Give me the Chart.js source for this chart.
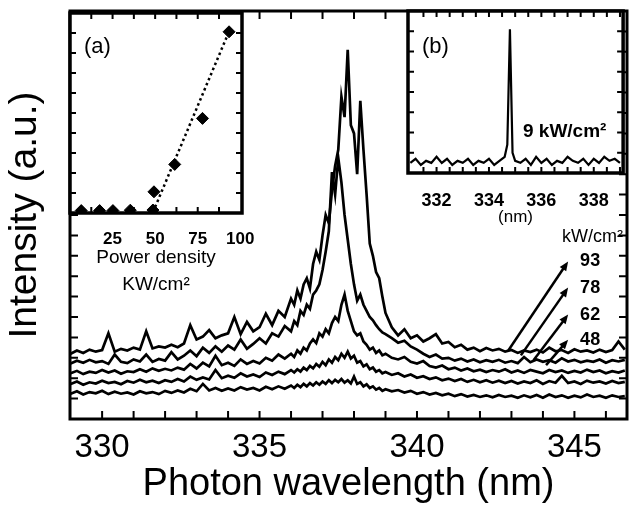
<!DOCTYPE html>
<html>
<head>
<meta charset="utf-8">
<script src="https://cdn.jsdelivr.net/npm/chart.js@4.4.1/dist/chart.umd.min.js"></script>
<style>
  html, body { margin: 0; padding: 0; background: #fff; }
  #wrap { position: relative; width: 629px; height: 507px; }
  canvas { position: absolute; top: 0; }
  #main { left: 0; }
  #insetA { left: 40px; }
  #insetB { left: 380px; }
</style>
</head>
<body>
<div id="wrap">
  <canvas id="main" width="629" height="507" style="width:629px;height:507px"></canvas>
  <canvas id="insetA" width="230" height="300" style="width:230px;height:300px"></canvas>
  <canvas id="insetB" width="249" height="228" style="width:249px;height:228px"></canvas>
</div>
<script>
// main spectra: wavelength (nm) and intensity (a.u., stacked)
const wavelength = [
  329.0, 329.2, 329.4, 329.6, 329.8, 330.0, 330.2, 330.4, 330.6, 330.8, 331.0, 331.2, 331.4, 331.6, 331.8, 332.0, 332.2, 332.4,
  332.6, 332.8, 333.0, 333.2, 333.4, 333.6, 333.8, 334.0, 334.2, 334.4, 334.6, 334.8, 335.0, 335.2, 335.4, 335.6, 335.8, 336.0,
  336.1, 336.2, 336.3, 336.4, 336.5, 336.6, 336.7, 336.8, 336.9, 337.0, 337.1, 337.2, 337.3, 337.4, 337.5, 337.6, 337.7, 337.8,
  337.9, 338.0, 338.1, 338.2, 338.3, 338.4, 338.5, 338.6, 338.7, 338.8, 338.9, 339.0,
  339.2, 339.4, 339.6, 339.8, 340.0, 340.2, 340.4, 340.6, 340.8, 341.0, 341.2, 341.4, 341.6, 341.8, 342.0, 342.2, 342.4, 342.6,
  342.8, 343.0, 343.2, 343.4, 343.6, 343.8, 344.0, 344.2, 344.4, 344.6, 344.8, 345.0, 345.2, 345.4, 345.6, 345.8, 346.0, 346.2,
  346.4, 346.6
];
const spec93 = [
  16.0, 16.8, 16.2, 17.0, 16.5, 16.9, 21.0, 16.5, 17.2, 16.8, 17.5, 17.0, 21.5, 17.3, 17.8, 17.5, 18.2, 17.6,
  18.5, 23.0, 19.5, 20.2, 21.8, 19.8, 20.5, 21.0, 25.0, 20.8, 23.8, 21.5, 22.5, 25.8, 23.0, 26.5, 25.0, 29.5,
  28.0, 31.5, 29.5, 33.0, 34.5, 32.0, 38.0, 41.0, 39.0, 45.0, 50.0, 48.0, 56.0, 62.0, 66.0, 79.0, 74.0, 90.5,
  72.0, 70.0, 60.0, 78.0, 66.0, 55.0, 43.0, 40.0, 36.0, 34.5, 30.0, 26.0,
  22.5, 20.5, 22.0, 19.8, 20.5, 19.0, 19.8, 20.8, 18.5, 18.9, 17.6, 18.2, 17.0, 17.5, 16.6, 17.4, 16.8, 17.2,
  16.5, 16.9, 16.2, 16.8, 16.4, 17.0, 16.3, 17.5, 16.6, 16.9, 16.2, 17.1, 16.5, 16.8, 16.3, 17.0, 16.4, 16.9,
  19.0, 17.0
];
const spec78 = [
  13.6, 14.3, 13.8, 14.5, 13.9, 14.2, 13.5, 15.8, 14.0, 13.7, 14.6, 14.1, 15.8, 14.0, 14.7, 14.3, 16.4, 14.6,
  15.5, 16.8, 15.4, 17.5, 16.2, 17.8, 16.5, 18.0, 17.0, 19.5, 17.2, 18.4, 19.8, 18.5, 21.0, 20.2, 22.8, 21.5,
  24.0, 23.0, 26.5, 25.5, 28.0, 27.0, 30.5, 31.5, 33.0, 36.5, 41.0, 46.0, 60.5, 55.0, 64.0, 58.0, 50.0, 44.0,
  38.0, 33.0, 29.0, 30.5, 28.0, 26.5, 25.0, 24.2, 23.0, 22.0, 21.2, 20.8,
  19.8, 18.7, 19.2, 17.8, 17.0, 16.0, 15.2, 15.8, 14.8, 15.0, 14.3, 14.8, 14.1, 14.6, 13.9, 14.4, 14.0, 14.5,
  13.8, 14.2, 13.7, 15.2, 13.9, 14.6, 14.0, 14.4, 13.8, 14.9, 14.1, 14.5, 13.9, 14.3, 14.0, 14.6, 13.8, 14.4,
  14.1, 14.5
];
const spec62 = [
  11.2, 11.8, 11.0, 11.6, 11.3, 12.0, 11.4, 11.9, 11.1, 11.7, 11.5, 12.2, 11.6, 12.4, 11.8, 12.3, 11.9, 12.6,
  12.1, 13.5, 12.4, 13.8, 12.9, 15.5, 13.2, 13.8, 13.0, 14.6, 13.5, 14.2, 13.6, 15.0, 14.3, 15.8, 14.8, 16.0,
  15.2, 16.8, 16.0, 17.5, 16.8, 18.5, 19.5, 18.6, 21.0, 20.2, 22.0, 21.0, 23.5, 25.0, 24.0, 28.0, 30.5, 26.5,
  24.0, 21.5, 20.5, 21.0, 19.0, 18.2, 17.0, 17.5, 16.2, 16.8, 15.6, 16.0,
  15.0, 14.6, 15.2, 14.0, 13.6, 14.2, 13.0, 12.6, 13.1, 12.2, 12.6, 11.9, 12.4, 11.7, 12.1, 11.5, 12.0, 11.6,
  12.2, 11.4, 11.9, 11.3, 12.0, 11.6, 11.2, 12.0, 11.5, 11.9, 11.3, 11.8, 11.4, 12.1, 11.5, 11.9, 11.2, 11.7,
  11.4, 11.9
];
const spec48 = [
  8.6, 9.2, 8.4, 9.0, 8.7, 9.4, 8.8, 9.1, 8.5, 9.3, 8.9, 9.6, 9.0, 9.4, 8.8, 9.5, 9.1, 9.8,
  9.2, 10.4, 9.6, 10.2, 9.7, 12.0, 10.0, 10.6, 10.1, 11.2, 10.4, 10.9, 10.3, 11.4, 10.8, 11.6, 11.0, 12.0,
  11.4, 12.2, 11.6, 12.6, 12.0, 13.0, 12.4, 13.5, 12.8, 14.0, 13.2, 14.6, 13.8, 15.2, 14.4, 16.0, 15.0, 16.5,
  14.8, 15.5, 13.8, 14.2, 12.9, 13.4, 12.2, 12.6, 11.6, 12.0, 11.2, 11.5,
  10.8, 11.2, 10.4, 10.9, 10.1, 10.5, 9.8, 10.2, 9.5, 9.9, 9.3, 9.8, 9.1, 9.6, 9.0, 9.5, 8.9, 9.4,
  8.8, 9.3, 8.7, 9.2, 8.8, 9.5, 8.6, 9.3, 8.9, 10.6, 8.8, 9.2, 8.6, 9.4, 8.9, 9.2, 8.7, 9.3,
  8.8, 9.1
];
const specLow = [
  6.2, 6.8, 6.0, 6.6, 6.3, 6.9, 6.1, 6.7, 6.2, 6.5, 6.0, 6.8, 6.3, 6.6, 6.1, 6.9, 6.4, 7.0,
  6.5, 7.4, 6.8, 8.6, 7.0, 7.6, 6.9, 7.5, 7.0, 7.8, 7.2, 7.6, 7.0, 7.9, 7.3, 8.0, 7.4, 8.2,
  7.6, 8.4, 7.8, 8.6, 8.0, 8.8, 8.2, 9.0, 8.4, 9.2, 8.6, 9.5, 8.8, 9.6, 9.0, 9.8, 8.9, 9.5,
  8.7, 10.4, 8.6, 9.0, 8.0, 8.5, 7.6, 8.0, 7.2, 7.6, 6.9, 7.3,
  6.8, 7.1, 6.5, 6.9, 6.2, 6.6, 6.0, 6.4, 5.8, 6.2, 5.6, 6.1, 5.5, 5.9, 5.4, 5.8, 5.3, 5.9,
  5.4, 5.7, 5.2, 5.8, 5.3, 5.9, 5.2, 6.0, 5.4, 5.8, 5.2, 5.7, 5.3, 6.0, 5.4, 5.7, 5.2, 5.8,
  5.4, 5.6
];
const spectra = [spec93, spec78, spec62, spec48, specLow];

// arrows pointing at the curves, labelled with power density
const arrowLabels = ['93', '78', '62', '48'];
const arrowTailX = [342.9, 343.3, 343.7, 344.1];
const arrowTailY = [16.8, 15.6, 14.4, 13.2];
const arrowHeadX = [344.8, 344.8, 344.8, 344.8];
const arrowHeadY = [38.6, 32.2, 25.6, 19.4];

// inset (a): intensity vs power density
const powerX = [6.6, 17.4, 25.2, 35.4, 48.7, 49.3, 61.5, 77.8, 93.4];
const powerY = [1.2, 1.2, 1.2, 1.4, 1.5, 10.6, 24.3, 47.3, 90.6];
const fitX = [50, 94];
const fitY = [3, 92];

// inset (b): spectrum at 9 kW/cm2
const bWave = [
  331.0, 331.2, 331.4, 331.6, 331.8, 332.0, 332.2, 332.4, 332.6, 332.8, 333.0, 333.2, 333.4, 333.6, 333.8, 334.0, 334.2, 334.4, 334.6,
  334.7, 334.8, 334.9,
  335.0, 335.2, 335.4, 335.6, 335.8, 336.0, 336.2, 336.4, 336.6, 336.8, 337.0, 337.2, 337.4, 337.6, 337.8, 338.0, 338.2, 338.4, 338.6, 338.8, 339.0
];
const bVals = [
  0.5, 0.7, 0.4, 0.6, 0.5, 0.8, 0.5, 0.7, 0.4, 0.6, 0.5, 0.7, 0.4, 0.6, 0.5, 0.7, 0.4, 0.6, 0.8,
  1.4, 7.1, 1.0,
  0.6, 0.5, 0.7, 0.4, 0.8, 0.5, 0.7, 0.4, 0.6, 0.5, 0.8, 0.6, 0.5, 0.7, 0.4, 0.7, 0.5, 0.8, 0.6, 0.7, 0.5
];

const FONT = "'Liberation Sans', Arial, sans-serif";
Chart.defaults.color = '#000';
Chart.defaults.font.family = FONT;

const zip = (xs, ys) => xs.map((x, i) => ({ x: x, y: ys[i] }));

// box frame + inward ticks on all four sides
const frameTicks = {
  id: 'frameTicks',
  beforeDatasetsDraw(chart, args, opts) {
    if (!opts.fill) return;
    const a = chart.chartArea;
    chart.ctx.save();
    chart.ctx.fillStyle = opts.fill;
    chart.ctx.fillRect(a.left, a.top, a.right - a.left, a.bottom - a.top);
    chart.ctx.restore();
  },
  afterDatasetsDraw(chart, args, opts) {
    const { ctx, chartArea: a, scales } = chart;
    const len = opts.len || 7;
    ctx.save();
    ctx.strokeStyle = '#000';
    ctx.lineWidth = opts.tickWidth || 2;
    ctx.beginPath();
    (scales.x.ticks || []).forEach(t => {
      const px = scales.x.getPixelForValue(t.value);
      if (px < a.left + 3 || px > a.right - 3) return;
      ctx.moveTo(px, a.bottom); ctx.lineTo(px, a.bottom - len);
      ctx.moveTo(px, a.top); ctx.lineTo(px, a.top + len);
    });
    (scales.y.ticks || []).forEach(t => {
      const py = scales.y.getPixelForValue(t.value);
      if (py < a.top + 3 || py > a.bottom - 3) return;
      ctx.moveTo(a.left, py); ctx.lineTo(a.left + len, py);
      ctx.moveTo(a.right, py); ctx.lineTo(a.right - len, py);
    });
    ctx.stroke();
    ctx.lineWidth = opts.frameWidth || 3;
    ctx.strokeRect(a.left, a.top, a.right - a.left, a.bottom - a.top);
    ctx.restore();
  }
};

// free text placed relative to the plot box
const boxNotes = {
  id: 'boxNotes',
  afterDraw(chart, args, opts) {
    const { ctx, chartArea: a } = chart;
    ctx.save();
    ctx.fillStyle = '#000';
    ctx.textBaseline = 'middle';
    (opts.items || []).forEach(n => {
      ctx.font = n.font;
      ctx.fillText(n.text, a.left + n.dx, a.top + n.dy);
    });
    ctx.restore();
  }
};

// arrows + labels on the main plot
const arrowNotes = {
  id: 'arrowNotes',
  afterDatasetsDraw(chart) {
    const { ctx, scales: { x, y } } = chart;
    ctx.save();
    ctx.strokeStyle = '#000';
    ctx.fillStyle = '#000';
    ctx.lineWidth = 2.5;
    ctx.textBaseline = 'middle';
    let firstX = 0, firstY = 0;
    arrowLabels.forEach((lab, i) => {
      const x0 = x.getPixelForValue(arrowTailX[i]), y0 = y.getPixelForValue(arrowTailY[i]);
      const x1 = x.getPixelForValue(arrowHeadX[i]), y1 = y.getPixelForValue(arrowHeadY[i]);
      const ang = Math.atan2(y1 - y0, x1 - x0);
      const hl = 10;
      ctx.beginPath();
      ctx.moveTo(x0, y0);
      ctx.lineTo(x1 - hl * 0.7 * Math.cos(ang), y1 - hl * 0.7 * Math.sin(ang));
      ctx.stroke();
      ctx.beginPath();
      ctx.moveTo(x1, y1);
      ctx.lineTo(x1 - hl * Math.cos(ang - 0.4), y1 - hl * Math.sin(ang - 0.4));
      ctx.lineTo(x1 - hl * Math.cos(ang + 0.4), y1 - hl * Math.sin(ang + 0.4));
      ctx.closePath();
      ctx.fill();
      ctx.font = 'bold 18px ' + FONT;
      ctx.fillText(lab, x1 + 12, y1);
      if (i === 0) { firstX = x1 + 12; firstY = y1; }
    });
    ctx.font = '18px ' + FONT;
    ctx.fillText('kW/cm²', firstX - 18, firstY - 24);
    ctx.restore();
  }
};

// main chart
new Chart(document.getElementById('main'), {
  type: 'line',
  data: {
    datasets: spectra.map(s => ({
      data: zip(wavelength, s),
      borderColor: '#000',
      borderWidth: 2.7,
      pointRadius: 0,
      tension: 0
    }))
  },
  options: {
    responsive: false,
    animation: false,
    layout: { padding: { top: 11, right: 2, left: 0, bottom: 0 } },
    plugins: {
      legend: { display: false },
      tooltip: { enabled: false },
      frameTicks: { len: 8, tickWidth: 2, frameWidth: 3 }
    },
    scales: {
      x: {
        type: 'linear',
        min: 328.98,
        max: 346.67,
        grid: { display: false },
        border: { display: false },
        ticks: {
          stepSize: 1,
          includeBounds: false,
          autoSkip: false,
          maxTicksLimit: 200,
          maxRotation: 0,
          padding: 1,
          font: { size: 33 },
          callback: v => (Math.abs(v / 5 - Math.round(v / 5)) < 1e-6 ? String(Math.round(v)) : '')
        },
        title: { display: true, text: 'Photon wavelength (nm)', font: { size: 38, lineHeight: 1 }, padding: { top: 0, bottom: 3 } },
        afterFit: s => { s.height = 88; }
      },
      y: {
        min: 0,
        max: 100,
        grid: { display: false },
        border: { display: false },
        ticks: { display: false, stepSize: 5, maxTicksLimit: 200 },
        title: { display: true, text: 'Intensity (a.u.)', font: { size: 39, lineHeight: 1 }, padding: { top: 6, bottom: 0 } },
        afterFit: s => { s.width = 70; }
      }
    }
  },
  plugins: [frameTicks, arrowNotes]
});

// inset (a)
new Chart(document.getElementById('insetA'), {
  type: 'scatter',
  data: {
    datasets: [
      {
        data: zip(powerX, powerY),
        showLine: false,
        pointStyle: 'rectRot',
        pointRadius: 6,
        backgroundColor: '#000',
        borderColor: '#000'
      },
      {
        data: zip(fitX, fitY),
        showLine: true,
        borderColor: '#000',
        borderWidth: 2.5,
        borderDash: [2.5, 3],
        pointRadius: 0
      }
    ]
  },
  options: {
    responsive: false,
    animation: false,
    layout: { padding: { top: 13, right: 28, left: 30, bottom: 0 } },
    plugins: {
      legend: { display: false },
      tooltip: { enabled: false },
      frameTicks: { fill: '#fff', len: 6, tickWidth: 2, frameWidth: 3.5 },
      boxNotes: { items: [{ text: '(a)', dx: 14, dy: 34, font: '22px ' + FONT }] }
    },
    scales: {
      x: {
        type: 'linear',
        min: 0,
        max: 101,
        grid: { display: false },
        border: { display: false },
        ticks: {
          stepSize: 12.5,
          includeBounds: false,
          autoSkip: false,
          maxTicksLimit: 200,
          maxRotation: 0,
          padding: 8,
          font: { size: 17, weight: 'bold' },
          callback: v => (v > 0 && Math.abs(v / 25 - Math.round(v / 25)) < 1e-6 ? String(v) : '')
        },
        title: {
          display: true,
          text: ['Power density', 'KW/cm²'],
          font: { size: 19, lineHeight: 1.42 },
          padding: { top: 0, bottom: 2 }
        },
        afterFit: s => { s.height = 87; }
      },
      y: {
        display: false,
        min: 0,
        max: 100,
        ticks: { stepSize: 10, maxTicksLimit: 200 }
      }
    }
  },
  plugins: [frameTicks, boxNotes]
});

// inset (b)
new Chart(document.getElementById('insetB'), {
  type: 'line',
  data: {
    datasets: [{
      data: zip(bWave, bVals),
      borderColor: '#000',
      borderWidth: 2.2,
      pointRadius: 0,
      tension: 0
    }]
  },
  options: {
    responsive: false,
    animation: false,
    layout: { padding: { top: 11, right: 2, left: 28, bottom: 0 } },
    plugins: {
      legend: { display: false },
      tooltip: { enabled: false },
      frameTicks: { fill: '#fff', len: 6, tickWidth: 2, frameWidth: 3.5 },
      boxNotes: {
        items: [
          { text: '(b)', dx: 14, dy: 36, font: '22px ' + FONT },
          { text: '9 kW/cm²', dx: 115, dy: 121, font: 'bold 19px ' + FONT }
        ]
      }
    },
    scales: {
      x: {
        type: 'linear',
        min: 330.91,
        max: 339.12,
        grid: { display: false },
        border: { display: false },
        ticks: {
          stepSize: 0.5,
          includeBounds: false,
          autoSkip: false,
          maxTicksLimit: 200,
          maxRotation: 0,
          padding: 9,
          font: { size: 18, weight: 'bold' },
          callback: v => (Math.abs(v / 2 - Math.round(v / 2)) < 1e-6 ? String(Math.round(v)) : '')
        },
        title: { display: true, text: '(nm)', font: { size: 17, lineHeight: 1.2 }, padding: { top: 0, bottom: 0 } },
        afterFit: s => { s.height = 55; }
      },
      y: {
        display: false,
        min: 0,
        max: 8,
        ticks: { stepSize: 1, maxTicksLimit: 200 }
      }
    }
  },
  plugins: [frameTicks, boxNotes]
});
</script>
</body>
</html>
